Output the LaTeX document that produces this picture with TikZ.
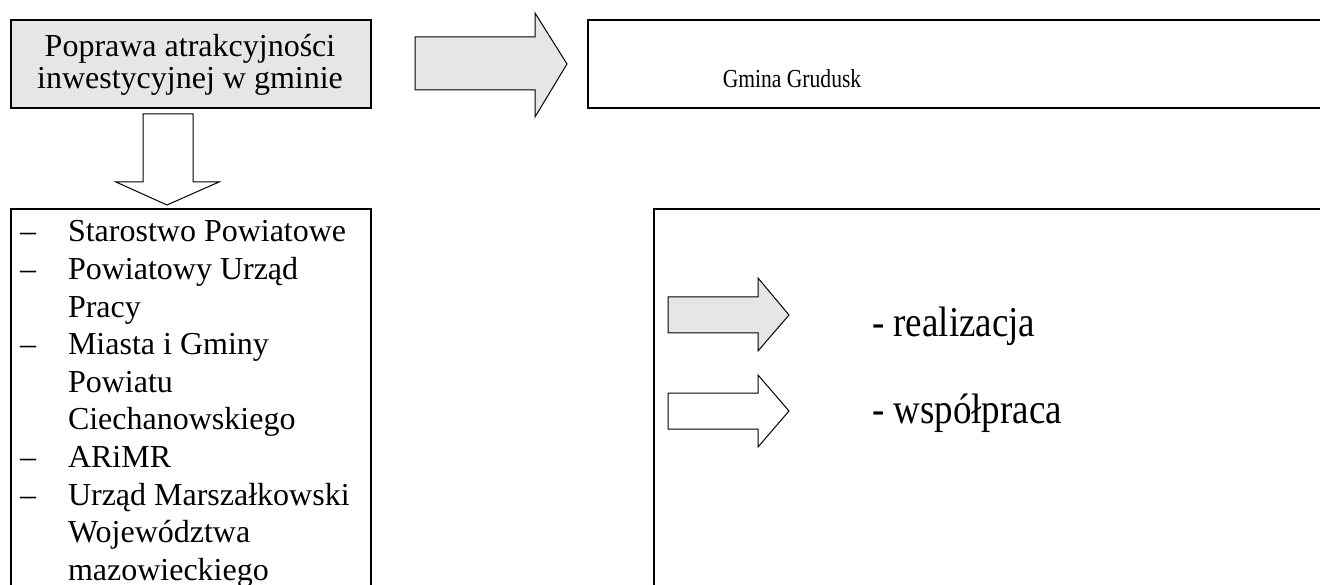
\documentclass[tikz,border=0pt]{standalone}
\usepackage{fontspec}
\setmainfont{Liberation Serif}
\usepackage{graphicx}
\definecolor{boxgray}{RGB}{230,230,230}
\tikzset{
  boxline/.style={draw=black, line width=1.8pt, inner sep=0pt, anchor=north west},
  blockarrow/.style={draw=black, line width=1pt, line join=miter},
  txt/.style={inner sep=0pt, outer sep=0pt},
}
\begin{document}
\begin{tikzpicture}[x=1pt,y=-1pt]
\useasboundingbox (0,0) rectangle (1320,585);
% boxes
\node[boxline, fill=boxgray, minimum width=360pt, minimum height=88pt] (goal) at (10,19) {};
\node[boxline, minimum width=740pt, minimum height=88pt] (gmina) at (587,19) {};
\node[boxline, minimum width=360pt, minimum height=400pt] (partners) at (10,208) {};
\node[boxline, minimum width=680pt, minimum height=400pt] (legend) at (653,208) {};
% texts
\node[txt, anchor=base west] (goaltxt) at (10,57)
  {\parbox[t]{360pt}{\centering\fontsize{32}{32}\selectfont\lineskiplimit=-100pt Poprawa atrakcyjności\\inwestycyjnej w gminie}};
\node[txt, anchor=base] (gminatxt) at (792,88)
  {\scalebox{0.83}[1]{\fontsize{26}{28}\selectfont Gmina Grudusk}};
\node[txt, anchor=base west] (list) at (20,242)
  {\parbox[t]{350pt}{\raggedright\fontsize{32}{37.6}\selectfont\lineskiplimit=-100pt
  \makebox[48pt][l]{–}Starostwo Powiatowe\\
  \makebox[48pt][l]{–}Powiatowy Urząd\\
  \hspace*{48pt}Pracy\\
  \makebox[48pt][l]{–}Miasta i Gminy\\
  \hspace*{48pt}Powiatu\\
  \hspace*{48pt}Ciechanowskiego\\
  \makebox[48pt][l]{–}ARiMR\\
  \makebox[48pt][l]{–}Urząd Marszałkowski\\
  \hspace*{48pt}Województwa\\
  \hspace*{48pt}mazowieckiego}};
\node[txt, anchor=base west] (realtxt) at (872,337)
  {\scalebox{1}[1.15]{\fontsize{37}{40}\selectfont - realizacja}};
\node[txt, anchor=base west] (wsptxt) at (872,423)
  {\scalebox{1}[1.15]{\fontsize{37}{40}\selectfont - współpraca}};
% block arrows
\draw[blockarrow, fill=boxgray] (415,37) -- (535,37) -- (535,13) -- (567,64) -- (535,117) -- (535,90) -- (415,90) -- cycle;
\draw[blockarrow, fill=white] (143,114) -- (193,114) -- (193,182) -- (219,182) -- (167,205) -- (116,182) -- (143,182) -- cycle;
\draw[blockarrow, fill=boxgray] (668,297) -- (758,297) -- (758,278) -- (789,315) -- (758,351) -- (758,333) -- (668,333) -- cycle;
\draw[blockarrow, fill=white] (668,393) -- (758,393) -- (758,375) -- (789,411) -- (758,447) -- (758,429) -- (668,429) -- cycle;
\end{tikzpicture}
\end{document}
